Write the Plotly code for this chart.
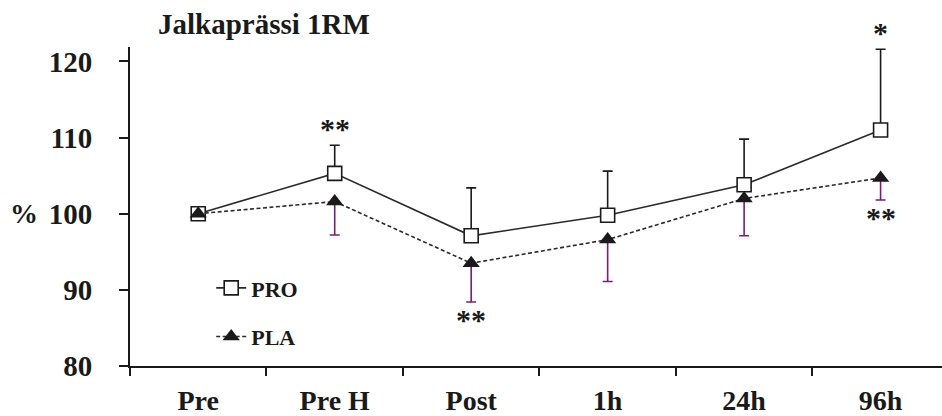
import plotly.graph_objects as go

categories = ["Pre", "Pre H", "Post", "1h", "24h", "96h"]
pro_mean = [100, 105.3, 97.1, 99.8, 103.8, 111.0]
pro_sd = [0, 3.7, 6.3, 5.8, 6.0, 10.6]
pla_mean = [100, 101.6, 93.5, 96.6, 102.0, 104.7]
pla_sd = [0, 4.4, 5.1, 5.5, 4.9, 2.9]
stars_above = ["", "**", "", "", "", "*"]   # above PRO error bars
stars_below = ["", "", "**", "", "", "**"]  # below PLA error bars
y_ticks = [80, 90, 100, 110, 120]
title_text = "<b>Jalkaprässi 1RM</b>"

FONT = "Liberation Serif, Times New Roman, serif"
INK = "#1a1a1a"
PURPLE = "#7b1c7b"


def bold(s):
    return "<b>%s</b>" % s


fig = go.Figure()

fig.add_trace(go.Scatter(
    x=categories, y=pro_mean, name=bold("PRO"), mode="lines+markers",
    line=dict(color="#2a2a2a", width=1.6),
    marker=dict(symbol="square", size=14, color="white", line=dict(color=INK, width=1.6)),
    error_y=dict(type="data", symmetric=False, array=pro_sd,
                 arrayminus=[0] * len(pro_sd), color=INK, thickness=1.6, width=5),
    legendgroup="pro",
))
fig.add_trace(go.Scatter(
    x=categories, y=pla_mean, name=bold("PLA"), mode="lines+markers",
    line=dict(color="#2a2a2a", width=1.6, dash="4px,2.5px"),
    marker=dict(symbol="triangle-up", size=15, color=INK, line=dict(color=INK, width=0)),
    error_y=dict(type="data", symmetric=False, array=[0] * len(pla_sd),
                 arrayminus=pla_sd, color=PURPLE, thickness=1.6, width=5),
    legendgroup="pla",
))

annotations = []
for c, m, s, t in zip(categories, pro_mean, pro_sd, stars_above):
    if t:
        annotations.append(dict(x=c, y=m + s, xref="x", yref="y", text=bold(t), showarrow=False,
                                yanchor="bottom", yshift=-2,
                                font=dict(family=FONT, size=30, color=INK)))
for c, m, s, t in zip(categories, pla_mean, pla_sd, stars_below):
    if t:
        annotations.append(dict(x=c, y=m - s, xref="x", yref="y", text=bold(t), showarrow=False,
                                yanchor="top", yshift=1,
                                font=dict(family=FONT, size=30, color=INK)))
annotations.append(dict(x=-0.13, y=100, xref="paper", yref="y", text=bold("%"), showarrow=False,
                        xanchor="center", yanchor="middle",
                        font=dict(family=FONT, size=28, color=INK)))
annotations.append(dict(x=(156 - 130) / 812, y=(366 - 24) / 319, xref="paper", yref="paper",
                        text=title_text, showarrow=False, xanchor="left", yanchor="middle",
                        font=dict(family=FONT, size=29, color=INK)))

fig.update_layout(
    width=942, height=416,
    margin=dict(l=130, r=0, t=47, b=50),
    paper_bgcolor="white", plot_bgcolor="white",
    font=dict(family=FONT, size=28, color=INK),
    showlegend=True,
    legend=dict(x=0.1, y=0.31, xanchor="left", yanchor="top",
                font=dict(family=FONT, size=22, color=INK),
                traceorder="grouped", tracegroupgap=17, bgcolor="rgba(0,0,0,0)"),
    annotations=annotations,
    xaxis=dict(type="category", range=[-0.5, 5.45], tickson="boundaries",
               tickvals=categories, ticktext=[bold(c) for c in categories],
               showline=True, linecolor=INK, linewidth=1.8, ticks="outside",
               ticklen=8, tickwidth=1.5, tickcolor=INK, showgrid=False, zeroline=False,
               tickfont=dict(family=FONT, size=28, color=INK),
               ticklabelstandoff=8),
    yaxis=dict(range=[80, 121.9], tickvals=y_ticks, ticktext=[bold(v) for v in y_ticks],
               showline=True, linecolor=INK,
               linewidth=1.8, ticks="outside", ticklen=9, tickwidth=1.5, tickcolor=INK,
               showgrid=False, zeroline=False,
               tickfont=dict(family=FONT, size=29, color=INK),
               ticklabelstandoff=21),
)

fig.write_html("out.html")
